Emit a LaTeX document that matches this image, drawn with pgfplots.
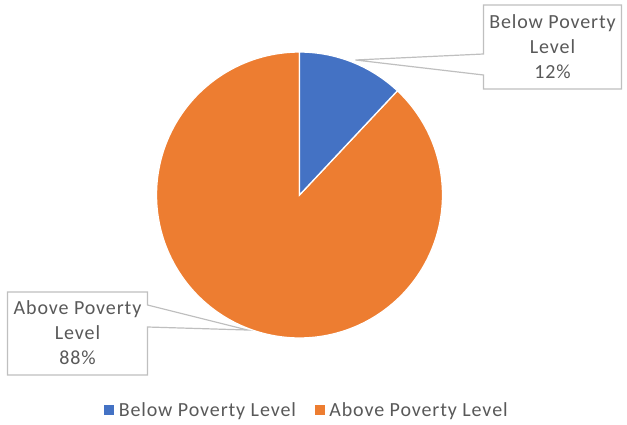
\documentclass[border=0pt]{standalone}
\usepackage{pgfplots}
\pgfplotsset{compat=1.18}
\usepackage{pgfplotstable}
\usepackage{fontspec}
\setmainfont{Carlito}[LetterSpace=4.5]
\definecolor{pieblue}{HTML}{4472C4}
\definecolor{pieorange}{HTML}{ED7D31}
\definecolor{txt}{HTML}{595959}
\definecolor{boxline}{HTML}{BFBFBF}
\pgfplotstableread{
label value
Below 12
Above 88
}\piedata
\pgfplotstablegetelem{0}{value}\of\piedata \let\vBelow\pgfplotsretval
\pgfplotstablegetelem{1}{value}\of\piedata \let\vAbove\pgfplotsretval
\pgfmathsetmacro\aStart{90}
\pgfmathsetmacro\aMid{90-\vBelow/(\vBelow+\vAbove)*360}
\pgfmathsetmacro\aEnd{\aMid-\vAbove/(\vBelow+\vAbove)*360}
\begin{document}
\begin{tikzpicture}
\begin{axis}[x=1bp,y=1bp,xmin=-299.5,xmax=327.5,ymin=-229,ymax=195,
  hide axis, clip=false, scale only axis,
  legend style={at={(axis cs:9,-215)}, anchor=center, draw=none, fill=none,
    font=\fontsize{20bp}{24bp}\selectfont\color{txt}, legend columns=2,
    nodes={inner xsep=5bp},
    /tikz/every even column/.append style={column sep=14bp}},
  legend cell align=left]
\path (axis cs:-299.5,-229) rectangle (axis cs:327.5,195);
\addplot[data cs=polar, fill=pieorange, draw=white, line width=1.3bp, domain=\aEnd:\aMid, samples=200, forget plot] {143} -- (axis cs:0,0) -- cycle;
\addplot[data cs=polar, fill=pieblue, draw=white, line width=1.3bp, domain=\aMid:\aStart, samples=40, forget plot] {143} -- (axis cs:0,0) -- cycle;
\addlegendimage{legend image code/.code={\fill[pieblue] (0bp,-4.5bp) rectangle (9bp,4.5bp);}}
\addlegendentry{Below Poverty Level}
\addlegendimage{legend image code/.code={\fill[pieorange] (0bp,-4.5bp) rectangle (9bp,4.5bp);}}
\addlegendentry{Above Poverty Level}
% callouts
\draw[boxline, line width=1.2bp, fill=white] (axis cs:184,190) -- (axis cs:322,190) -- (axis cs:322,106) -- (axis cs:184,106) -- (axis cs:184,120) -- (axis cs:56,135) -- (axis cs:184,141) -- cycle;
\node[align=center, text=txt, font=\fontsize{20bp}{25bp}\selectfont] at (axis cs:253,148) {Below Poverty\\Level\\\vBelow\%};
\draw[boxline, line width=1.2bp, fill=white] (axis cs:-292,-97) -- (axis cs:-152,-97) -- (axis cs:-152,-110) -- (axis cs:-52,-135) -- (axis cs:-152,-132) -- (axis cs:-152,-180) -- (axis cs:-292,-180) -- cycle;
\node[align=center, text=txt, font=\fontsize{20bp}{25bp}\selectfont] at (axis cs:-222,-138) {Above Poverty\\Level\\\vAbove\%};
\end{axis}
\end{tikzpicture}
\end{document}
